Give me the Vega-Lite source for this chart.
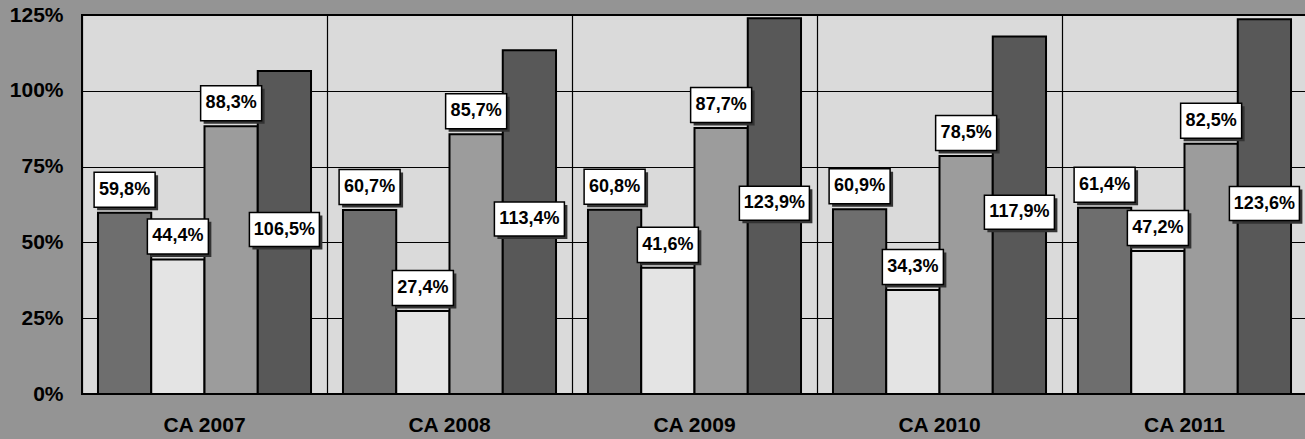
{
  "$schema": "https://vega.github.io/schema/vega-lite/v6.json",
  "autosize": "none",
  "padding": {"left": 82, "top": 15, "right": 0, "bottom": 45},
  "width": 1225,
  "height": 379,
  "background": "#949494",
  "config": {
    "locale": {"number": {"decimal": ",", "thousands": ".", "grouping": [3], "currency": ["", " €"]}},
    "view": {"fill": "#dadada", "stroke": "#000000", "strokeWidth": 2},
    "font": "Liberation Sans"
  },
  "data": {
    "values": [
      {"ano": "CA 2007", "serie": "Série 1", "valor": 0.598},
      {"ano": "CA 2007", "serie": "Série 2", "valor": 0.444},
      {"ano": "CA 2007", "serie": "Série 3", "valor": 0.883},
      {"ano": "CA 2007", "serie": "Série 4", "valor": 1.065},
      {"ano": "CA 2008", "serie": "Série 1", "valor": 0.607},
      {"ano": "CA 2008", "serie": "Série 2", "valor": 0.274},
      {"ano": "CA 2008", "serie": "Série 3", "valor": 0.857},
      {"ano": "CA 2008", "serie": "Série 4", "valor": 1.134},
      {"ano": "CA 2009", "serie": "Série 1", "valor": 0.608},
      {"ano": "CA 2009", "serie": "Série 2", "valor": 0.416},
      {"ano": "CA 2009", "serie": "Série 3", "valor": 0.877},
      {"ano": "CA 2009", "serie": "Série 4", "valor": 1.239},
      {"ano": "CA 2010", "serie": "Série 1", "valor": 0.609},
      {"ano": "CA 2010", "serie": "Série 2", "valor": 0.343},
      {"ano": "CA 2010", "serie": "Série 3", "valor": 0.785},
      {"ano": "CA 2010", "serie": "Série 4", "valor": 1.179},
      {"ano": "CA 2011", "serie": "Série 1", "valor": 0.614},
      {"ano": "CA 2011", "serie": "Série 2", "valor": 0.472},
      {"ano": "CA 2011", "serie": "Série 3", "valor": 0.825},
      {"ano": "CA 2011", "serie": "Série 4", "valor": 1.236}
    ]
  },
  "encoding": {
    "x": {
      "field": "ano", "type": "nominal", "title": null,
      "scale": {"paddingInner": 0, "paddingOuter": 0},
      "axis": {
        "labelAngle": 0, "bandPosition": 0, "grid": true, "gridColor": "#000000", "gridWidth": 1.2, "gridOpacity": 1,
        "ticks": false, "domain": false,
        "labelFont": "Liberation Sans", "labelFontSize": 21, "labelFontWeight": "bold", "labelColor": "#000000",
        "labelPadding": 20
      }
    },
    "xOffset": {"field": "serie", "type": "nominal", "scale": {"paddingInner": 0, "paddingOuter": 0.3}}
  },
  "layer": [
    {
      "mark": {"type": "bar", "stroke": "#000000", "strokeWidth": 2},
      "encoding": {
        "y": {
          "field": "valor", "type": "quantitative", "title": null,
          "scale": {"domain": [0, 1.25], "nice": false},
          "axis": {
            "values": [0, 0.25, 0.5, 0.75, 1, 1.25], "format": ".0%", "grid": true, "gridColor": "#000000", "gridWidth": 1, "gridOpacity": 1,
            "ticks": false, "domain": false, "labelFont": "Liberation Sans", "labelFontSize": 21, "labelFontWeight": "bold",
            "labelColor": "#000000", "labelPadding": 19
          }
        },
        "fill": {
          "field": "serie", "type": "nominal", "legend": null,
          "scale": {"domain": ["Série 1", "Série 2", "Série 3", "Série 4"], "range": ["#6e6e6e", "#e4e4e4", "#9c9c9c", "#585858"]}
        }
      }
    },
    {
      "transform": [{"filter": "datum.serie !== 'Série 4'"}],
      "mark": {"type": "point", "shape": "M-0.902,-1.23H1.098V-0.082H-0.902Z", "filled": true, "color": "#333333", "opacity": 1, "size": 3721},
      "encoding": {
        "y": {"field": "valor", "type": "quantitative", "scale": {"domain": [0, 1.25], "nice": false}, "axis": null}
      }
    },
    {
      "transform": [{"filter": "datum.serie !== 'Série 4'"}],
      "mark": {"type": "point", "shape": "M-1,-1.328H1V-0.18H-1Z", "filled": true, "fill": "#ffffff", "stroke": "#000000", "strokeWidth": 1.5, "opacity": 1, "size": 3721},
      "encoding": {
        "y": {"field": "valor", "type": "quantitative", "scale": {"domain": [0, 1.25], "nice": false}, "axis": null}
      }
    },
    {
      "transform": [{"filter": "datum.serie !== 'Série 4'"}],
      "mark": {"type": "text", "dy": -23, "baseline": "middle", "align": "center", "fontSize": 18, "fontWeight": "bold", "font": "Liberation Sans", "color": "#000000"},
      "encoding": {
        "y": {"field": "valor", "type": "quantitative", "scale": {"domain": [0, 1.25], "nice": false}, "axis": null},
        "text": {"field": "valor", "type": "quantitative", "format": ".1%"}
      }
    },
    {
      "transform": [{"filter": "datum.serie === 'Série 4'"}],
      "mark": {"type": "point", "shape": "M-0.914,-0.486H1.086V0.486H-0.914Z", "filled": true, "color": "#333333", "opacity": 1, "size": 4900},
      "encoding": {
        "y": {"field": "valor", "type": "quantitative", "scale": {"domain": [0, 2.5], "nice": false}, "axis": null}
      }
    },
    {
      "transform": [{"filter": "datum.serie === 'Série 4'"}],
      "mark": {"type": "point", "shape": "M-1,-0.572H1V0.4H-1Z", "filled": true, "fill": "#ffffff", "stroke": "#000000", "strokeWidth": 1.5, "opacity": 1, "size": 4900},
      "encoding": {
        "y": {"field": "valor", "type": "quantitative", "scale": {"domain": [0, 2.5], "nice": false}, "axis": null}
      }
    },
    {
      "transform": [{"filter": "datum.serie === 'Série 4'"}],
      "mark": {"type": "text", "dy": -3, "baseline": "middle", "align": "center", "fontSize": 18, "fontWeight": "bold", "font": "Liberation Sans", "color": "#000000"},
      "encoding": {
        "y": {"field": "valor", "type": "quantitative", "scale": {"domain": [0, 2.5], "nice": false}, "axis": null},
        "text": {"field": "valor", "type": "quantitative", "format": ".1%"}
      }
    }
  ],
  "resolve": {"scale": {"y": "independent"}}
}
